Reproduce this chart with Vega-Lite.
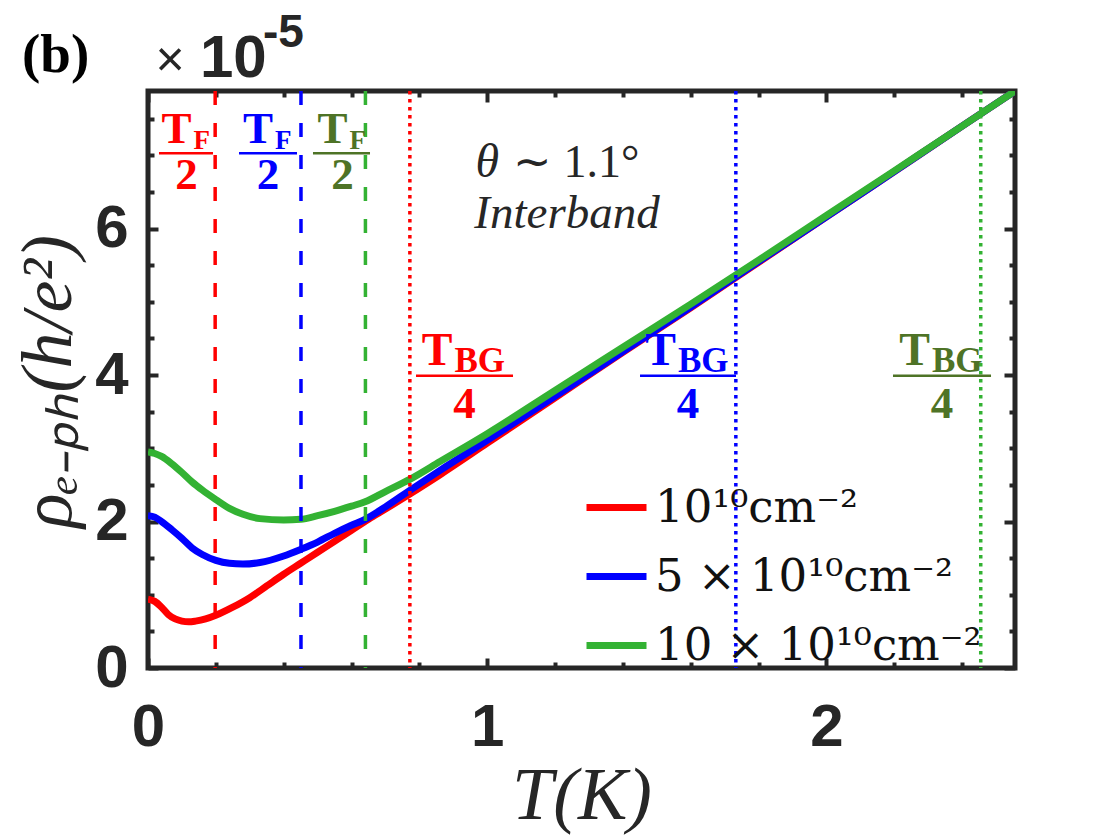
{
  "$schema": "https://vega.github.io/schema/vega-lite/v6.json",
  "width": 867,
  "height": 577,
  "autosize": {"type": "none"},
  "padding": {"left": 148, "top": 91, "right": 105, "bottom": 172},
  "background": "white",
  "config": {
    "view": {"stroke": "#262626", "strokeWidth": 5},
    "axis": {"grid": false, "domain": false, "tickColor": "#262626", "tickWidth": 4, "labelFlush": false, "labelOverlap": false, "labelBound": false}
  },
  "datasets": {
    "curves": [
      {"n": "10¹⁰cm⁻²", "T": 0, "rho": 0.94}, {"n": "10¹⁰cm⁻²", "T": 0.02, "rho": 0.91}, {"n": "10¹⁰cm⁻²", "T": 0.04, "rho": 0.83}, {"n": "10¹⁰cm⁻²", "T": 0.06, "rho": 0.73}, {"n": "10¹⁰cm⁻²", "T": 0.08, "rho": 0.67}, {"n": "10¹⁰cm⁻²", "T": 0.1, "rho": 0.64}, {"n": "10¹⁰cm⁻²", "T": 0.12, "rho": 0.63}, {"n": "10¹⁰cm⁻²", "T": 0.14, "rho": 0.64}, {"n": "10¹⁰cm⁻²", "T": 0.17, "rho": 0.67}, {"n": "10¹⁰cm⁻²", "T": 0.2, "rho": 0.72}, {"n": "10¹⁰cm⁻²", "T": 0.25, "rho": 0.83}, {"n": "10¹⁰cm⁻²", "T": 0.3, "rho": 0.96}, {"n": "10¹⁰cm⁻²", "T": 0.35, "rho": 1.12}, {"n": "10¹⁰cm⁻²", "T": 0.4, "rho": 1.28}, {"n": "10¹⁰cm⁻²", "T": 0.45, "rho": 1.43}, {"n": "10¹⁰cm⁻²", "T": 0.5, "rho": 1.58}, {"n": "10¹⁰cm⁻²", "T": 0.55, "rho": 1.73}, {"n": "10¹⁰cm⁻²", "T": 0.6, "rho": 1.88}, {"n": "10¹⁰cm⁻²", "T": 0.65, "rho": 2.03}, {"n": "10¹⁰cm⁻²", "T": 0.7, "rho": 2.17}, {"n": "10¹⁰cm⁻²", "T": 0.773, "rho": 2.38}, {"n": "10¹⁰cm⁻²", "T": 0.861, "rho": 2.64}, {"n": "10¹⁰cm⁻²", "T": 1.0, "rho": 3.07}, {"n": "10¹⁰cm⁻²", "T": 1.2, "rho": 3.69}, {"n": "10¹⁰cm⁻²", "T": 1.4, "rho": 4.31}, {"n": "10¹⁰cm⁻²", "T": 1.6, "rho": 4.92}, {"n": "10¹⁰cm⁻²", "T": 1.8, "rho": 5.54}, {"n": "10¹⁰cm⁻²", "T": 2.0, "rho": 6.16}, {"n": "10¹⁰cm⁻²", "T": 2.2, "rho": 6.78}, {"n": "10¹⁰cm⁻²", "T": 2.4, "rho": 7.4}, {"n": "10¹⁰cm⁻²", "T": 2.556, "rho": 7.88},
      {"n": "5 × 10¹⁰cm⁻²", "T": 0, "rho": 2.08}, {"n": "5 × 10¹⁰cm⁻²", "T": 0.02, "rho": 2.06}, {"n": "5 × 10¹⁰cm⁻²", "T": 0.04, "rho": 2.0}, {"n": "5 × 10¹⁰cm⁻²", "T": 0.07, "rho": 1.89}, {"n": "5 × 10¹⁰cm⁻²", "T": 0.1, "rho": 1.77}, {"n": "5 × 10¹⁰cm⁻²", "T": 0.13, "rho": 1.64}, {"n": "5 × 10¹⁰cm⁻²", "T": 0.16, "rho": 1.55}, {"n": "5 × 10¹⁰cm⁻²", "T": 0.2, "rho": 1.47}, {"n": "5 × 10¹⁰cm⁻²", "T": 0.24, "rho": 1.43}, {"n": "5 × 10¹⁰cm⁻²", "T": 0.28, "rho": 1.42}, {"n": "5 × 10¹⁰cm⁻²", "T": 0.33, "rho": 1.44}, {"n": "5 × 10¹⁰cm⁻²", "T": 0.4, "rho": 1.53}, {"n": "5 × 10¹⁰cm⁻²", "T": 0.45, "rho": 1.62}, {"n": "5 × 10¹⁰cm⁻²", "T": 0.5, "rho": 1.72}, {"n": "5 × 10¹⁰cm⁻²", "T": 0.55, "rho": 1.84}, {"n": "5 × 10¹⁰cm⁻²", "T": 0.6, "rho": 1.95}, {"n": "5 × 10¹⁰cm⁻²", "T": 0.64, "rho": 2.03}, {"n": "5 × 10¹⁰cm⁻²", "T": 0.7, "rho": 2.2}, {"n": "5 × 10¹⁰cm⁻²", "T": 0.773, "rho": 2.43}, {"n": "5 × 10¹⁰cm⁻²", "T": 0.861, "rho": 2.7}, {"n": "5 × 10¹⁰cm⁻²", "T": 1.0, "rho": 3.11}, {"n": "5 × 10¹⁰cm⁻²", "T": 1.2, "rho": 3.71}, {"n": "5 × 10¹⁰cm⁻²", "T": 1.4, "rho": 4.32}, {"n": "5 × 10¹⁰cm⁻²", "T": 1.6, "rho": 4.93}, {"n": "5 × 10¹⁰cm⁻²", "T": 1.8, "rho": 5.55}, {"n": "5 × 10¹⁰cm⁻²", "T": 2.0, "rho": 6.16}, {"n": "5 × 10¹⁰cm⁻²", "T": 2.2, "rho": 6.78}, {"n": "5 × 10¹⁰cm⁻²", "T": 2.4, "rho": 7.4}, {"n": "5 × 10¹⁰cm⁻²", "T": 2.556, "rho": 7.88},
      {"n": "10 × 10¹⁰cm⁻²", "T": 0, "rho": 2.95}, {"n": "10 × 10¹⁰cm⁻²", "T": 0.02, "rho": 2.93}, {"n": "10 × 10¹⁰cm⁻²", "T": 0.04, "rho": 2.89}, {"n": "10 × 10¹⁰cm⁻²", "T": 0.07, "rho": 2.79}, {"n": "10 × 10¹⁰cm⁻²", "T": 0.1, "rho": 2.67}, {"n": "10 × 10¹⁰cm⁻²", "T": 0.13, "rho": 2.54}, {"n": "10 × 10¹⁰cm⁻²", "T": 0.16, "rho": 2.43}, {"n": "10 × 10¹⁰cm⁻²", "T": 0.2, "rho": 2.3}, {"n": "10 × 10¹⁰cm⁻²", "T": 0.24, "rho": 2.18}, {"n": "10 × 10¹⁰cm⁻²", "T": 0.28, "rho": 2.1}, {"n": "10 × 10¹⁰cm⁻²", "T": 0.33, "rho": 2.04}, {"n": "10 × 10¹⁰cm⁻²", "T": 0.4, "rho": 2.02}, {"n": "10 × 10¹⁰cm⁻²", "T": 0.45, "rho": 2.03}, {"n": "10 × 10¹⁰cm⁻²", "T": 0.5, "rho": 2.08}, {"n": "10 × 10¹⁰cm⁻²", "T": 0.55, "rho": 2.14}, {"n": "10 × 10¹⁰cm⁻²", "T": 0.6, "rho": 2.21}, {"n": "10 × 10¹⁰cm⁻²", "T": 0.64, "rho": 2.27}, {"n": "10 × 10¹⁰cm⁻²", "T": 0.7, "rho": 2.41}, {"n": "10 × 10¹⁰cm⁻²", "T": 0.773, "rho": 2.58}, {"n": "10 × 10¹⁰cm⁻²", "T": 0.861, "rho": 2.82}, {"n": "10 × 10¹⁰cm⁻²", "T": 1.0, "rho": 3.2}, {"n": "10 × 10¹⁰cm⁻²", "T": 1.2, "rho": 3.79}, {"n": "10 × 10¹⁰cm⁻²", "T": 1.4, "rho": 4.38}, {"n": "10 × 10¹⁰cm⁻²", "T": 1.6, "rho": 4.97}, {"n": "10 × 10¹⁰cm⁻²", "T": 1.8, "rho": 5.57}, {"n": "10 × 10¹⁰cm⁻²", "T": 2.0, "rho": 6.18}, {"n": "10 × 10¹⁰cm⁻²", "T": 2.2, "rho": 6.79}, {"n": "10 × 10¹⁰cm⁻²", "T": 2.4, "rho": 7.4}, {"n": "10 × 10¹⁰cm⁻²", "T": 2.556, "rho": 7.88}
    ],
    "markers": [
      {"n": "10¹⁰cm⁻²", "T": 0.198, "kind": "TF/2"},
      {"n": "5 × 10¹⁰cm⁻²", "T": 0.451, "kind": "TF/2"},
      {"n": "10 × 10¹⁰cm⁻²", "T": 0.641, "kind": "TF/2"},
      {"n": "10¹⁰cm⁻²", "T": 0.772, "kind": "TBG/4"},
      {"n": "5 × 10¹⁰cm⁻²", "T": 1.733, "kind": "TBG/4"},
      {"n": "10 × 10¹⁰cm⁻²", "T": 2.455, "kind": "TBG/4"}
    ],
    "fracs": [
      {"n": "10¹⁰cm⁻²", "kind": "TF/2", "T": 0.1135, "T1": 0.0324, "T2": 0.1916, "num": "T", "sub": "F", "den": "2", "yNum": 7.167, "ySub": 7.085, "yBar": 7.03, "yDen": 6.54},
      {"n": "5 × 10¹⁰cm⁻²", "kind": "TF/2", "T": 0.3538, "T1": 0.2683, "T2": 0.4393, "num": "T", "sub": "F", "den": "2", "yNum": 7.167, "ySub": 7.085, "yBar": 7.03, "yDen": 6.54},
      {"n": "10 × 10¹⁰cm⁻²", "kind": "TF/2", "T": 0.5734, "T1": 0.4864, "T2": 0.6545, "num": "T", "sub": "F", "den": "2", "yNum": 7.167, "ySub": 7.085, "yBar": 7.03, "yDen": 6.54},
      {"n": "10¹⁰cm⁻²", "kind": "TBG/4", "T": 0.9331, "T1": 0.7901, "T2": 1.0761, "num": "T", "sub": "BG", "den": "4", "yNum": 4.137, "ySub": 4.04, "yBar": 3.99, "yDen": 3.413},
      {"n": "5 × 10¹⁰cm⁻²", "kind": "TBG/4", "T": 1.592, "T1": 1.4505, "T2": 1.7335, "num": "T", "sub": "BG", "den": "4", "yNum": 4.137, "ySub": 4.04, "yBar": 3.99, "yDen": 3.413},
      {"n": "10 × 10¹⁰cm⁻²", "kind": "TBG/4", "T": 2.3408, "T1": 2.1963, "T2": 2.4853, "num": "T", "sub": "BG", "den": "4", "yNum": 4.137, "ySub": 4.04, "yBar": 3.99, "yDen": 3.413}
    ],
    "notes": [
      {"key": "panel", "text": "(b)", "T": -0.3715, "y": 8.137},
      {"key": "times", "text": "×", "T": 0.0649, "y": 8.287},
      {"key": "ten", "text": "10", "T": 0.1533, "y": 8.068},
      {"key": "exp", "text": "-5", "T": 0.339, "y": 8.478},
      {"key": "thetaSym", "text": "θ", "T": 1.0348, "y": 6.703},
      {"key": "theta", "text": "∼ 1.1°", "T": 1.076, "y": 6.703},
      {"key": "interband", "text": "Interband", "T": 1.2353, "y": 6.007}
    ]
  },
  "resolve": {"axis": {"x": "independent", "y": "independent"}},
  "layer": [
    {
      "data": {"name": "curves"},
      "mark": {"type": "line", "strokeWidth": 7, "interpolate": "monotone", "clip": true},
      "encoding": {
        "x": {"field": "T", "type": "quantitative", "scale": {"domain": [0, 2.556], "nice": false, "zero": false},
          "axis": {"orient": "bottom", "values": [0, 1, 2], "format": "d", "tickSize": -10, "labelPadding": 40, "labelFont": "Liberation Sans", "labelFontWeight": "bold", "labelFontSize": 60, "labelColor": "#262626",
            "title": "T(K)", "titleFont": "Liberation Serif", "titleFontStyle": "italic", "titleFontWeight": "normal", "titleFontSize": 74, "titleColor": "#262626", "titleX": 433.5, "titleY": 150, "titleBaseline": "alphabetic", "titleAlign": "center"}},
        "y": {"field": "rho", "type": "quantitative", "scale": {"domain": [0, 7.88], "nice": false, "zero": false},
          "axis": {"orient": "left", "values": [0, 2, 4, 6], "format": "d", "tickSize": -10, "labelPadding": 30, "labelFont": "Liberation Sans", "labelFontWeight": "bold", "labelFontSize": 60, "labelColor": "#262626",
            "title": "ρₑ₋ₚₕ(h/e²)", "titleFont": "Liberation Serif", "titleFontStyle": "italic", "titleFontWeight": "normal", "titleFontSize": 72, "titleColor": "#262626", "titleX": -100, "titleY": 290, "titleAngle": 270, "titleBaseline": "middle", "titleAlign": "center"}},
        "color": {"field": "n", "type": "nominal",
          "scale": {"domain": ["10¹⁰cm⁻²", "5 × 10¹⁰cm⁻²", "10 × 10¹⁰cm⁻²"], "range": ["#ff0000", "#0000ff", "#33b233"]},
          "legend": {"orient": "none", "legendX": 435, "legendY": 383, "title": null, "symbolType": "stroke", "symbolSize": 3600, "symbolStrokeWidth": 7, "labelFont": "DejaVu Serif", "labelFontSize": 45, "labelColor": "#111111", "labelOffset": 5, "labelLimit": 800, "rowPadding": 12, "padding": 0}}
      }
    },
    {
      "data": {"name": "markers"},
      "mark": {"type": "rule", "strokeWidth": 3.5},
      "encoding": {
        "x": {"field": "T", "type": "quantitative", "scale": {"domain": [0, 2.556], "nice": false, "zero": false}, "axis": null},
        "color": {"field": "n", "type": "nominal", "legend": null},
        "strokeDash": {"field": "kind", "type": "nominal", "scale": {"domain": ["TF/2", "TBG/4"], "range": [[14, 18], [3.5, 4.5]]}, "legend": null}
      }
    },
    {
      "data": {"name": "fracs"},
      "transform": [{"filter": "datum.kind === 'TF/2'"}],
      "mark": {"type": "text", "align": "right", "baseline": "alphabetic", "dx": 5, "font": "Liberation Serif", "fontWeight": "bold", "fontSize": 45},
      "encoding": {
        "x": {"field": "T", "type": "quantitative", "scale": {"domain": [0, 2.556], "nice": false, "zero": false},
          "axis": {"orient": "bottom", "values": [0.2, 0.4, 0.6, 0.8, 1.2, 1.4, 1.6, 1.8, 2.2, 2.4], "labels": false, "tickSize": -6, "title": null}},
        "y": {"field": "yNum", "type": "quantitative", "scale": {"domain": [0, 7.88], "nice": false, "zero": false},
          "axis": {"orient": "left", "values": [0.5, 1, 1.5, 2.5, 3, 3.5, 4.5, 5, 5.5, 6.5, 7, 7.5], "labels": false, "tickSize": -6, "title": null}},
        "text": {"field": "num"},
        "fill": {"field": "n", "type": "nominal", "scale": {"domain": ["10¹⁰cm⁻²", "5 × 10¹⁰cm⁻²", "10 × 10¹⁰cm⁻²"], "range": ["#ff0000", "#0000ff", "#4e7326"]}, "legend": null}
      }
    },
    {
      "data": {"name": "fracs"},
      "transform": [{"filter": "datum.kind === 'TBG/4'"}],
      "mark": {"type": "text", "align": "right", "baseline": "alphabetic", "dx": -12, "font": "Liberation Serif", "fontWeight": "bold", "fontSize": 46},
      "encoding": {
        "x": {"field": "T", "type": "quantitative", "scale": {"domain": [0, 2.556], "nice": false, "zero": false}, "axis": null},
        "y": {"field": "yNum", "type": "quantitative", "scale": {"domain": [0, 7.88], "nice": false, "zero": false}, "axis": null},
        "text": {"field": "num"},
        "fill": {"field": "n", "type": "nominal", "legend": null}
      }
    },
    {
      "data": {"name": "fracs"},
      "transform": [{"filter": "datum.kind === 'TF/2'"}],
      "mark": {"type": "text", "align": "left", "baseline": "alphabetic", "dx": 7, "font": "Liberation Serif", "fontWeight": "bold", "fontSize": 27},
      "encoding": {
        "x": {"field": "T", "type": "quantitative", "scale": {"domain": [0, 2.556], "nice": false, "zero": false},
          "axis": {"orient": "top", "values": [0, 1, 2], "labels": false, "tickSize": -11, "title": null}},
        "y": {"field": "ySub", "type": "quantitative", "scale": {"domain": [0, 7.88], "nice": false, "zero": false},
          "axis": {"orient": "right", "values": [0, 2, 4, 6], "labels": false, "tickSize": -11, "title": null}},
        "text": {"field": "sub"},
        "fill": {"field": "n", "type": "nominal", "legend": null}
      }
    },
    {
      "data": {"name": "fracs"},
      "transform": [{"filter": "datum.kind === 'TBG/4'"}],
      "mark": {"type": "text", "align": "left", "baseline": "alphabetic", "dx": -10, "font": "Liberation Serif", "fontWeight": "bold", "fontSize": 35},
      "encoding": {
        "x": {"field": "T", "type": "quantitative", "scale": {"domain": [0, 2.556], "nice": false, "zero": false}, "axis": null},
        "y": {"field": "ySub", "type": "quantitative", "scale": {"domain": [0, 7.88], "nice": false, "zero": false}, "axis": null},
        "text": {"field": "sub"},
        "fill": {"field": "n", "type": "nominal", "legend": null}
      }
    },
    {
      "data": {"name": "fracs"},
      "mark": {"type": "text", "align": "center", "baseline": "alphabetic", "font": "Liberation Serif", "fontWeight": "bold", "fontSize": 45},
      "encoding": {
        "x": {"field": "T", "type": "quantitative", "scale": {"domain": [0, 2.556], "nice": false, "zero": false},
          "axis": {"orient": "top", "values": [0.2, 0.4, 0.6, 0.8, 1.2, 1.4, 1.6, 1.8, 2.2, 2.4], "labels": false, "tickSize": -6, "title": null}},
        "y": {"field": "yDen", "type": "quantitative", "scale": {"domain": [0, 7.88], "nice": false, "zero": false},
          "axis": {"orient": "right", "values": [0.5, 1, 1.5, 2.5, 3, 3.5, 4.5, 5, 5.5, 6.5, 7, 7.5], "labels": false, "tickSize": -6, "title": null}},
        "text": {"field": "den"},
        "fill": {"field": "n", "type": "nominal", "legend": null}
      }
    },
    {
      "data": {"name": "fracs"},
      "mark": {"type": "rule", "strokeWidth": 2.5},
      "encoding": {
        "x": {"field": "T1", "type": "quantitative", "scale": {"domain": [0, 2.556], "nice": false, "zero": false}, "axis": null},
        "x2": {"field": "T2"},
        "y": {"field": "yBar", "type": "quantitative", "scale": {"domain": [0, 7.88], "nice": false, "zero": false}, "axis": null},
        "stroke": {"field": "n", "type": "nominal", "scale": {"domain": ["10¹⁰cm⁻²", "5 × 10¹⁰cm⁻²", "10 × 10¹⁰cm⁻²"], "range": ["#ff0000", "#0000ff", "#4e7326"]}, "legend": null}
      }
    },
    {
      "data": {"name": "notes"},
      "transform": [{"filter": "datum.key === 'panel'"}],
      "mark": {"type": "text", "align": "left", "baseline": "alphabetic", "font": "Liberation Serif", "fontWeight": "bold", "fontSize": 55, "color": "#000000"},
      "encoding": {
        "x": {"field": "T", "type": "quantitative", "scale": {"domain": [0, 2.556], "nice": false, "zero": false}, "axis": null},
        "y": {"field": "y", "type": "quantitative", "scale": {"domain": [0, 7.88], "nice": false, "zero": false}, "axis": null},
        "text": {"field": "text"}
      }
    },
    {
      "data": {"name": "notes"},
      "transform": [{"filter": "datum.key === 'times'"}],
      "mark": {"type": "text", "align": "center", "baseline": "middle", "font": "Liberation Sans", "fontSize": 50, "color": "#262626"},
      "encoding": {
        "x": {"field": "T", "type": "quantitative", "scale": {"domain": [0, 2.556], "nice": false, "zero": false}, "axis": null},
        "y": {"field": "y", "type": "quantitative", "scale": {"domain": [0, 7.88], "nice": false, "zero": false}, "axis": null},
        "text": {"field": "text"}
      }
    },
    {
      "data": {"name": "notes"},
      "transform": [{"filter": "datum.key === 'ten'"}],
      "mark": {"type": "text", "align": "left", "baseline": "alphabetic", "font": "Liberation Sans", "fontWeight": "bold", "fontSize": 60, "color": "#262626"},
      "encoding": {
        "x": {"field": "T", "type": "quantitative", "scale": {"domain": [0, 2.556], "nice": false, "zero": false}, "axis": null},
        "y": {"field": "y", "type": "quantitative", "scale": {"domain": [0, 7.88], "nice": false, "zero": false}, "axis": null},
        "text": {"field": "text"}
      }
    },
    {
      "data": {"name": "notes"},
      "transform": [{"filter": "datum.key === 'exp'"}],
      "mark": {"type": "text", "align": "left", "baseline": "alphabetic", "font": "Liberation Sans", "fontWeight": "bold", "fontSize": 46, "color": "#262626"},
      "encoding": {
        "x": {"field": "T", "type": "quantitative", "scale": {"domain": [0, 2.556], "nice": false, "zero": false}, "axis": null},
        "y": {"field": "y", "type": "quantitative", "scale": {"domain": [0, 7.88], "nice": false, "zero": false}, "axis": null},
        "text": {"field": "text"}
      }
    },
    {
      "data": {"name": "notes"},
      "transform": [{"filter": "datum.key === 'thetaSym'"}],
      "mark": {"type": "text", "align": "right", "baseline": "alphabetic", "font": "Liberation Serif", "fontStyle": "italic", "fontSize": 48, "color": "#262626"},
      "encoding": {
        "x": {"field": "T", "type": "quantitative", "scale": {"domain": [0, 2.556], "nice": false, "zero": false}, "axis": null},
        "y": {"field": "y", "type": "quantitative", "scale": {"domain": [0, 7.88], "nice": false, "zero": false}, "axis": null},
        "text": {"field": "text"}
      }
    },
    {
      "data": {"name": "notes"},
      "transform": [{"filter": "datum.key === 'theta'"}],
      "mark": {"type": "text", "align": "left", "baseline": "alphabetic", "font": "Liberation Serif", "fontSize": 46, "color": "#262626"},
      "encoding": {
        "x": {"field": "T", "type": "quantitative", "scale": {"domain": [0, 2.556], "nice": false, "zero": false}, "axis": null},
        "y": {"field": "y", "type": "quantitative", "scale": {"domain": [0, 7.88], "nice": false, "zero": false}, "axis": null},
        "text": {"field": "text"}
      }
    },
    {
      "data": {"name": "notes"},
      "transform": [{"filter": "datum.key === 'interband'"}],
      "mark": {"type": "text", "align": "center", "baseline": "alphabetic", "font": "Liberation Serif", "fontStyle": "italic", "fontSize": 47, "color": "#262626"},
      "encoding": {
        "x": {"field": "T", "type": "quantitative", "scale": {"domain": [0, 2.556], "nice": false, "zero": false}, "axis": null},
        "y": {"field": "y", "type": "quantitative", "scale": {"domain": [0, 7.88], "nice": false, "zero": false}, "axis": null},
        "text": {"field": "text"}
      }
    }
  ]
}
